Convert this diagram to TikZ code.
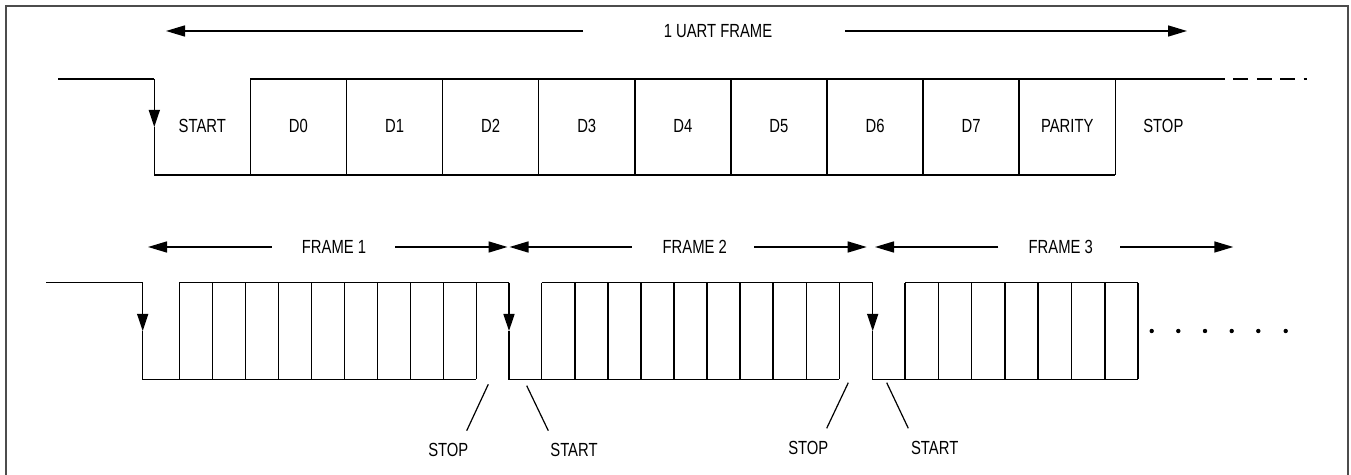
\documentclass[tikz,border=0pt]{standalone}
\usepackage{fontspec}
\setmainfont{Liberation Sans}[FakeStretch=0.78]
\usetikzlibrary{arrows.meta}
\begin{document}
\begin{tikzpicture}[x=0.5pt,y=-0.5pt,
  sig/.style={line width=0.75pt,line join=miter},
  border/.style={line width=1pt,draw=black!70},
  lbl/.style={inner sep=0pt,font=\fontsize{9.5pt}{11pt}\selectfont},
  harrow/.style={line width=0.75pt,-{Triangle[length=9.5pt,width=5.5pt]}},
  varrow/.style={line width=0.75pt,-{Triangle[length=8.5pt,width=5.5pt]}},
  pointer/.style={line width=0.6pt},
  dotmark/.style={circle,fill=black,inner sep=0pt,minimum size=2.2pt}]
\useasboundingbox (0,0) rectangle (1351,475);
% frame border (open at the bottom)
\draw[border] (5.5,480) -- (5.5,5.7) -- (1347.5,5.7) -- (1347.5,480);

% ---------- top: one UART frame ----------
\node[lbl] (uart) at (718,31) {1 UART FRAME};
\coordinate (ua1) at (583,31); \coordinate (ua1t) at (166,31);
\coordinate (ua2) at (845,31); \coordinate (ua2t) at (1187,31);
\draw[harrow] (ua1) -- (ua1t);
\draw[harrow] (ua2) -- (ua2t);

\coordinate (t0) at (58,79);
\coordinate (tf) at (154.3,79);
\coordinate (tm) at (154.3,127);
\coordinate (tb) at (154.3,175);
\draw[sig] (t0) -- (tf);
\draw[varrow] (tf) -- (tm);
\draw[sig] (tm) -- (tb) -- (1115.3,175);
\draw[sig] (250.4,79) -- (1210,79);
\foreach \k in {1,...,10}{
  \draw[sig] ({154.3+96.1*\k},79) -- ({154.3+96.1*\k},175);
}
\draw[line width=1pt,dash pattern=on 7.5pt off 4.2pt] (1210,79) -- (1307,79);

\foreach \t [count=\i from 0] in {START,D0,D1,D2,D3,D4,D5,D6,D7,PARITY,STOP}{
  \node[lbl] (tl\i) at ({202.35+96.1*\i},126) {\t};
}

% ---------- bottom: consecutive frames ----------
\node[lbl] (f1) at (334,247) {FRAME 1};
\node[lbl] (f2) at (694.8,247) {FRAME 2};
\node[lbl] (f3) at (1060.8,247) {FRAME 3};
\draw[harrow] (271.7,247) -- (148,247);
\draw[harrow] (395,247) -- (507.5,247);
\draw[harrow] (631.7,247) -- (509.5,247);
\draw[harrow] (754,247) -- (866.7,247);
\draw[harrow] (998.3,247) -- (875,247);
\draw[harrow] (1120,247) -- (1233.3,247);

% idle line and frame 1
\draw[sig] (46,282.7) -- (142.7,282.7);
\draw[varrow] (142.7,282.7) -- (142.7,331);
\draw[sig] (142.7,331) -- (142.7,379.3) -- (476.3,379.3);
\draw[sig] (179.3,282.7) -- (509,282.7);
\foreach \k in {0,...,9}{
  \draw[sig] ({179.3+33*\k},282.7) -- ({179.3+33*\k},379.3);
}
% frame 2
\draw[varrow] (509,282.7) -- (509,331);
\draw[sig] (509,331) -- (509,379.3) -- (839.3,379.3);
\draw[sig] (541.7,282.7) -- (872.7,282.7);
\foreach \k in {0,...,9}{
  \draw[sig] ({541.7+33.07*\k},282.7) -- ({541.7+33.07*\k},379.3);
}
% frame 3
\draw[varrow] (872.7,282.7) -- (872.7,331);
\draw[sig] (872.7,331) -- (872.7,379.3) -- (1138.1,379.3);
\draw[sig] (905,282.7) -- (1138.1,282.7);
\foreach \k in {0,...,7}{
  \draw[sig] ({905+33.3*\k},282.7) -- ({905+33.3*\k},379.3);
}
% continuation dots
\foreach \x [count=\i] in {1151.7,1178.3,1205,1231.7,1258.3,1285.7}{
  \node[dotmark] (dot\i) at (\x,331) {};
}

% STOP / START pointers
\node[lbl] (stop1) at (448.3,450) {STOP};
\node[lbl] (start1) at (574,450) {START};
\node[lbl] (stop2) at (808.3,447.5) {STOP};
\node[lbl] (start2) at (934.7,447.7) {START};
\coordinate (p1a) at (488.3,384.3); \coordinate (p1b) at (466.7,430.7);
\coordinate (p2a) at (526.7,385.7); \coordinate (p2b) at (548.3,430.7);
\coordinate (p3a) at (848.3,382.7); \coordinate (p3b) at (826.7,428.3);
\coordinate (p4a) at (886.7,382.7); \coordinate (p4b) at (908.3,428.3);
\draw[pointer] (p1a) -- (p1b);
\draw[pointer] (p2a) -- (p2b);
\draw[pointer] (p3a) -- (p3b);
\draw[pointer] (p4a) -- (p4b);
\end{tikzpicture}
\end{document}
